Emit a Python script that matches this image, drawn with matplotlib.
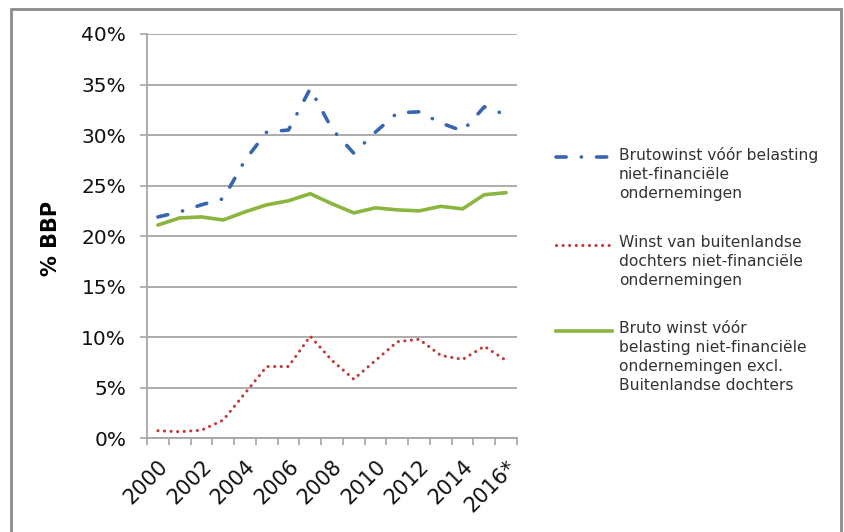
import matplotlib
matplotlib.use("Agg")
import matplotlib.pyplot as plt
from matplotlib.lines import Line2D
from matplotlib.patches import Rectangle
import numpy as np

years = ["2000", "2001", "2002", "2003", "2004", "2005", "2006", "2007", "2008",
         "2009", "2010", "2011", "2012", "2013", "2014", "2015", "2016*"]
brutowinst = [21.9, 22.4, 23.1, 23.7, 27.5, 30.3, 30.5, 34.6, 30.6,
              28.2, 30.3, 32.2, 32.3, 31.2, 30.4, 32.8, 32.0]
buitenland = [0.75, 0.65, 0.8, 1.8, 4.45, 7.1, 7.1, 10.1, 7.7,
              5.85, 7.7, 9.55, 9.8, 8.2, 7.8, 9.1, 7.7]
excl_buitenland = [21.1, 21.8, 21.9, 21.6, 22.4, 23.1, 23.5, 24.2, 23.2,
                   22.3, 22.8, 22.6, 22.5, 22.95, 22.7, 24.1, 24.3]
labels = ["Brutowinst vóór belasting\nniet-financiële\nondernemingen",
          "Winst van buitenlandse\ndochters niet-financiële\nondernemingen",
          "Bruto winst vóór\nbelasting niet-financiële\nondernemingen excl.\nBuitenlandse dochters"]
yticks = [0, 5, 10, 15, 20, 25, 30, 35, 40]

blue = "#3566B0"
red = "#C0393B"
green = "#8BB53F"
gridc = "#A6A6A6"

fig = plt.figure(figsize=(8.44, 5.32), dpi=100)
fig.patch.set_facecolor("white")
# outer frame
fig.add_artist(Rectangle((11 / 844, -0.05), (841 - 11) / 844, 1.05 - 9 / 532,
                         transform=fig.transFigure, fill=False,
                         edgecolor="#8C8C8C", linewidth=2.0))

ax = fig.add_axes([147 / 844, 1 - 438.3 / 532, (517 - 147) / 844, (438.3 - 34) / 532])
x = np.arange(len(years))

l1, = ax.plot(x, brutowinst, color=blue, linewidth=2.6, dash_capstyle="round")
l1.set_dashes([2.8, 4.2, 0.05, 4.2])
l2, = ax.plot(x, buitenland, color=red, linewidth=2.2, dash_capstyle="round")
l2.set_dashes([0.05, 2.1])
l3, = ax.plot(x, excl_buitenland, color=green, linewidth=2.6, solid_capstyle="round")

ax.set_xlim(-0.5, len(years) - 0.5)
ax.set_ylim(0, 40)
ax.set_yticks(yticks)
ax.set_yticklabels([f"{v}%" for v in yticks], fontsize=14.5, color="#111111")
ax.yaxis.grid(True, color=gridc, linewidth=1.3)
ax.set_axisbelow(True)

ax.set_xticks(np.arange(-0.5, len(years), 1.0))
ax.set_xticklabels([])
ax.set_xticks(x[::2], minor=True)
ax.set_xticklabels([years[i] for i in x[::2]], minor=True, rotation=45,
                   ha="right", va="top", rotation_mode="anchor", fontsize=15, color="#111111")
ax.tick_params(axis="x", which="minor", length=0, pad=13)
ax.tick_params(axis="x", which="major", length=5, color=gridc, width=1.2)
ax.tick_params(axis="y", length=5, color=gridc, width=1.2, pad=10)

for s in ["top", "right"]:
    ax.spines[s].set_visible(False)
for s in ["left", "bottom"]:
    ax.spines[s].set_color(gridc)
    ax.spines[s].set_linewidth(1.3)

ax.set_ylabel("% BBP", fontsize=15, fontweight="bold")
ax.yaxis.set_label_coords((61 - 147) / 370, (438.3 - 238) / 404.3)

# legend (manual, handles aligned with first text line)
leg_y = [157, 245, 331]
for line, lab, yy in zip([l1, l2, l3], labels, leg_y):
    yf = 1 - yy / 532
    h = Line2D([556 / 844, 612 / 844], [yf, yf], transform=fig.transFigure,
               color=line.get_color(), linewidth=line.get_linewidth())
    if line is l1:
        h.set_dashes([2.8, 4.2, 0.05, 4.2])
        h.set_dash_capstyle("round")
    elif line is l2:
        h.set_dashes([0.05, 2.1])
        h.set_dash_capstyle("round")
    fig.add_artist(h)
    fig.text(619 / 844, yf + 10 / 532, lab, fontsize=11.2, color="#333333", va="top",
             ha="left", linespacing=1.33, transform=fig.transFigure)

fig.savefig("out.png", dpi=100)
